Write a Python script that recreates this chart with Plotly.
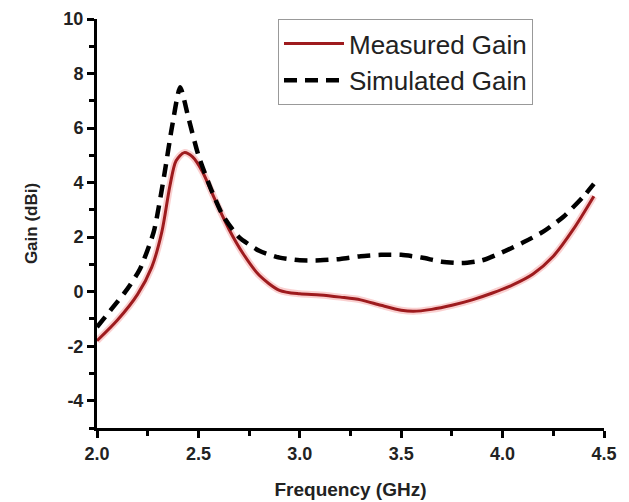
import plotly.graph_objects as go

# Measured gain
meas_freq = [2.0, 2.1, 2.2, 2.27, 2.32, 2.36, 2.39, 2.43, 2.47, 2.52, 2.58, 2.65, 2.72, 2.8, 2.9,
             3.0, 3.1, 3.2, 3.3, 3.4, 3.5, 3.56, 3.65, 3.75, 3.85, 3.95, 4.05, 4.15, 4.25, 4.35, 4.45]
meas_gain = [-1.8, -1.05, -0.1, 0.9, 2.2, 3.9, 4.8, 5.1, 4.95, 4.4, 3.4, 2.3, 1.4, 0.6, 0.05,
             -0.08, -0.12, -0.2, -0.3, -0.5, -0.68, -0.72, -0.65, -0.5, -0.3, -0.05, 0.25, 0.65, 1.3, 2.3, 3.5]

# Simulated gain
sim_freq = [2.0, 2.07, 2.14, 2.21, 2.28, 2.33, 2.37, 2.41, 2.45, 2.5, 2.56, 2.62, 2.7, 2.8, 2.9,
            3.0, 3.1, 3.2, 3.3, 3.4, 3.5, 3.6, 3.7, 3.8, 3.9, 4.0, 4.1, 4.2, 4.3, 4.4, 4.45]
sim_gain = [-1.3, -0.65, 0.0, 0.8, 2.2, 4.2, 6.05, 7.5, 6.4, 5.0, 3.8, 2.8, 2.0, 1.5, 1.25,
            1.15, 1.15, 1.2, 1.3, 1.35, 1.35, 1.25, 1.1, 1.05, 1.15, 1.45, 1.8, 2.2, 2.75, 3.5, 3.95]

series_names = ["Measured Gain", "Simulated Gain"]

y_tick_vals = [-4, -2, 0, 2, 4, 6, 8, 10]
y_tick_labels = ["-4", "-2", "0", "2", "4", "6", "8", "10"]
x_tick_vals = [2.0, 2.5, 3.0, 3.5, 4.0, 4.5]
x_tick_labels = ["2.0", "2.5", "3.0", "3.5", "4.0", "4.5"]

FONT = "Liberation Sans, Arial, sans-serif"

fig = go.Figure()
# soft halo under the measured curve
fig.add_trace(go.Scatter(x=meas_freq, y=meas_gain, mode="lines", showlegend=False, hoverinfo="skip",
                         line=dict(color="rgba(240,120,120,0.35)", width=7, shape="spline", smoothing=0.8)))
fig.add_trace(go.Scatter(x=meas_freq, y=meas_gain, mode="lines", name=series_names[0],
                         line=dict(color="#9e1b1e", width=3, shape="spline", smoothing=0.8)))
fig.add_trace(go.Scatter(x=sim_freq, y=sim_gain, mode="lines", name=series_names[1],
                         line=dict(color="#000000", width=4.5, dash="13px,8px", shape="spline", smoothing=0.6)))

axis_common = dict(showgrid=False, zeroline=False, showline=True, linecolor="black", linewidth=3,
                   ticks="outside", ticklen=7, tickwidth=2.5, tickcolor="black", automargin=False,
                   ticklabeloverflow="allow",
                   tickfont=dict(family=FONT, size=18, color="#222", weight="bold"), mirror=False)

fig.update_xaxes(range=[2.0, 4.5], tickmode="array", tickvals=x_tick_vals, ticktext=x_tick_labels,
                 minor=dict(dtick=0.25, tick0=2.0, ticks="outside", ticklen=5, tickwidth=2.5, tickcolor="black"),
                 title=dict(text="Frequency (GHz)", font=dict(family=FONT, size=19, color="#222", weight="bold"),
                            standoff=21),
                 **axis_common)
fig.update_yaxes(range=[-5, 10], tickmode="array", tickvals=y_tick_vals, ticktext=y_tick_labels,
                 minor=dict(dtick=1, tick0=0, ticks="outside", ticklen=5, tickwidth=2.5, tickcolor="black"),
                 title=dict(text="Gain (dBi)", font=dict(family=FONT, size=17, color="#222", weight="bold"),
                            standoff=22),
                 **axis_common)

fig.update_layout(
    width=621, height=494,
    margin=dict(l=89, r=25, t=11, b=74, autoexpand=False),
    paper_bgcolor="white", plot_bgcolor="white",
    legend=dict(x=0.357, y=1.0, xanchor="left", yanchor="top",
                bordercolor="#999", borderwidth=1, bgcolor="white",
                font=dict(family=FONT, size=26, color="#222"),
                itemwidth=60, tracegroupgap=0),
)

fig.write_html("out.html")
